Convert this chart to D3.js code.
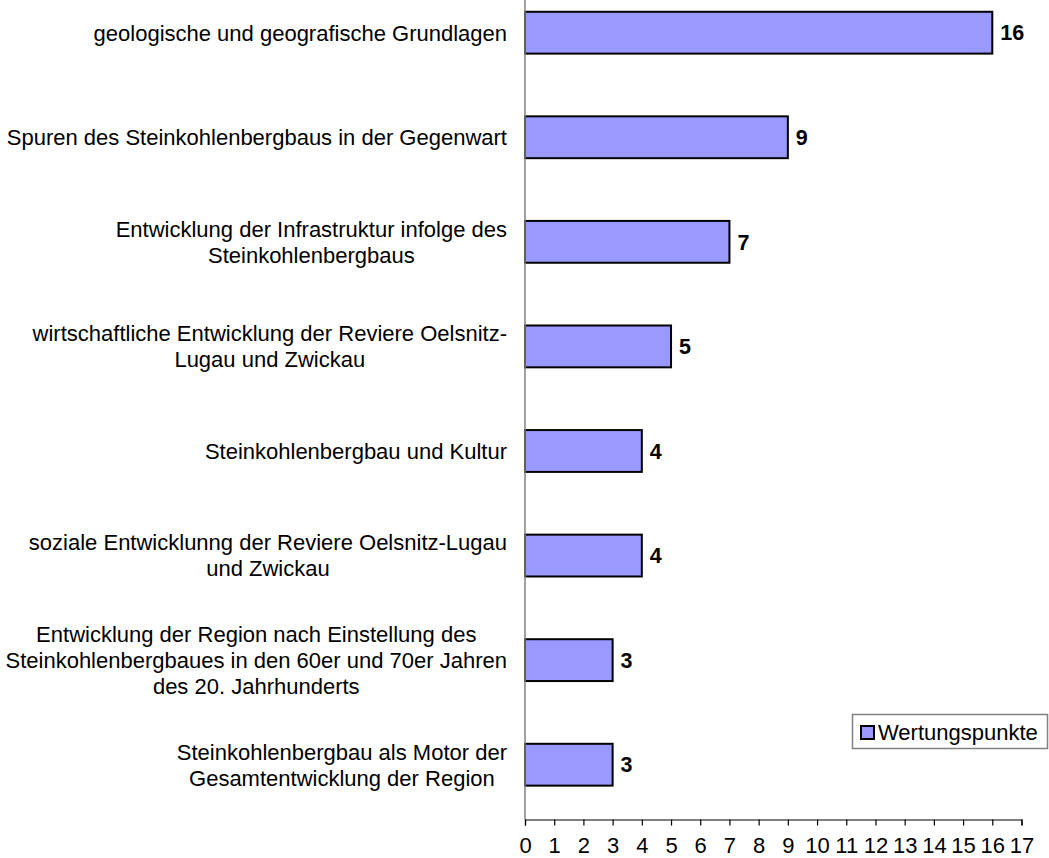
<!DOCTYPE html>
<html>
<head>
<meta charset="utf-8">
<script src="https://cdn.jsdelivr.net/npm/d3@7"></script>
<style>
  html, body { margin: 0; padding: 0; background: #fff; }
  svg { display: block; font-family: "Liberation Sans", Arial, sans-serif; }
</style>
</head>
<body>
<svg id="chart" width="1049" height="858"></svg>
<script>
const categories = [
  ["geologische und geografische Grundlagen"],
  ["Spuren des Steinkohlenbergbaus in der Gegenwart"],
  ["Entwicklung der Infrastruktur infolge des", "Steinkohlenbergbaus"],
  ["wirtschaftliche Entwicklung der Reviere Oelsnitz-", "Lugau und Zwickau"],
  ["Steinkohlenbergbau und Kultur"],
  ["soziale Entwicklunng der Reviere Oelsnitz-Lugau", "und Zwickau"],
  ["Entwicklung der Region nach Einstellung des", "Steinkohlenbergbaues in den 60er und 70er Jahren", "des 20. Jahrhunderts"],
  ["Steinkohlenbergbau als Motor der", "Gesamtentwicklung der Region"]
];
const values = [16, 9, 7, 5, 4, 4, 3, 3];
const seriesName = "Wertungspunkte";
const xTicks = d3.range(0, 18);

const svg = d3.select("#chart");
const plotLeft = 525, plotRight = 1021.5, plotTop = -19.6, plotBottom = 817;
const axisY = 819.5;
const fs = 22;

const x = d3.scaleLinear().domain([0, 17]).range([plotLeft, plotRight]);
const y = d3.scaleBand().domain(d3.range(categories.length)).range([plotTop, plotBottom])
  .paddingInner(0.6).paddingOuter(0.3);

// bars
svg.append("g").selectAll("rect").data(values).join("rect")
  .attr("x", x(0))
  .attr("y", (d, i) => y(i))
  .attr("width", d => x(d) - x(0))
  .attr("height", y.bandwidth())
  .attr("fill", "#9999ff")
  .attr("stroke", "#000")
  .attr("stroke-width", 2);

// value labels
svg.append("g").selectAll("text").data(values).join("text")
  .attr("x", d => x(d) + 8)
  .attr("y", (d, i) => y(i) + y.bandwidth() / 2)
  .attr("dy", "0.36em")
  .attr("font-size", 21.5)
  .attr("font-weight", "bold")
  .attr("fill", "#000")
  .text(d => d);

// vertical axis line
svg.append("line")
  .attr("x1", x(0)).attr("x2", x(0))
  .attr("y1", 0).attr("y2", axisY)
  .attr("stroke", "#808080").attr("stroke-width", 1.5);

// bottom axis
const xAxis = d3.axisBottom(x).tickValues(xTicks).tickSize(6).tickPadding(12).tickFormat(d3.format("d"));
const gx = svg.append("g").attr("transform", `translate(0,${axisY})`).call(xAxis);
gx.select(".domain").attr("stroke", "#000").attr("stroke-width", 1.2);
gx.selectAll(".tick line").attr("stroke", "#000").attr("stroke-width", 1.2);
gx.selectAll(".tick text").attr("font-size", fs).attr("font-family", "Liberation Sans, Arial, sans-serif").attr("fill", "#000");

// category labels (block right-aligned, lines centred)
const lineH = 26;
const labelRight = 507;
const gl = svg.append("g");
categories.forEach((lines, i) => {
  const cy = y(i) + y.bandwidth() / 2;
  const g = gl.append("g");
  const texts = lines.map((ln, j) => g.append("text")
    .attr("font-size", fs)
    .attr("fill", "#000")
    .attr("text-anchor", "middle")
    .attr("y", cy + (j - (lines.length - 1) / 2) * lineH)
    .attr("dy", "0.36em")
    .text(ln));
  const w = d3.max(texts, t => t.node().getComputedTextLength());
  texts.forEach(t => t.attr("x", labelRight - w / 2));
});

// legend
const lg = svg.append("g");
lg.append("rect").attr("x", 852.5).attr("y", 714.5).attr("width", 195).attr("height", 34)
  .attr("fill", "#fff").attr("stroke", "#808080").attr("stroke-width", 1.5);
lg.append("rect").attr("x", 861).attr("y", 726).attr("width", 13).attr("height", 13)
  .attr("fill", "#9999ff").attr("stroke", "#000").attr("stroke-width", 2);
lg.append("text").attr("x", 878).attr("y", 732).attr("dy", "0.36em")
  .attr("font-size", fs).attr("fill", "#000").text(seriesName);
</script>
</body>
</html>
